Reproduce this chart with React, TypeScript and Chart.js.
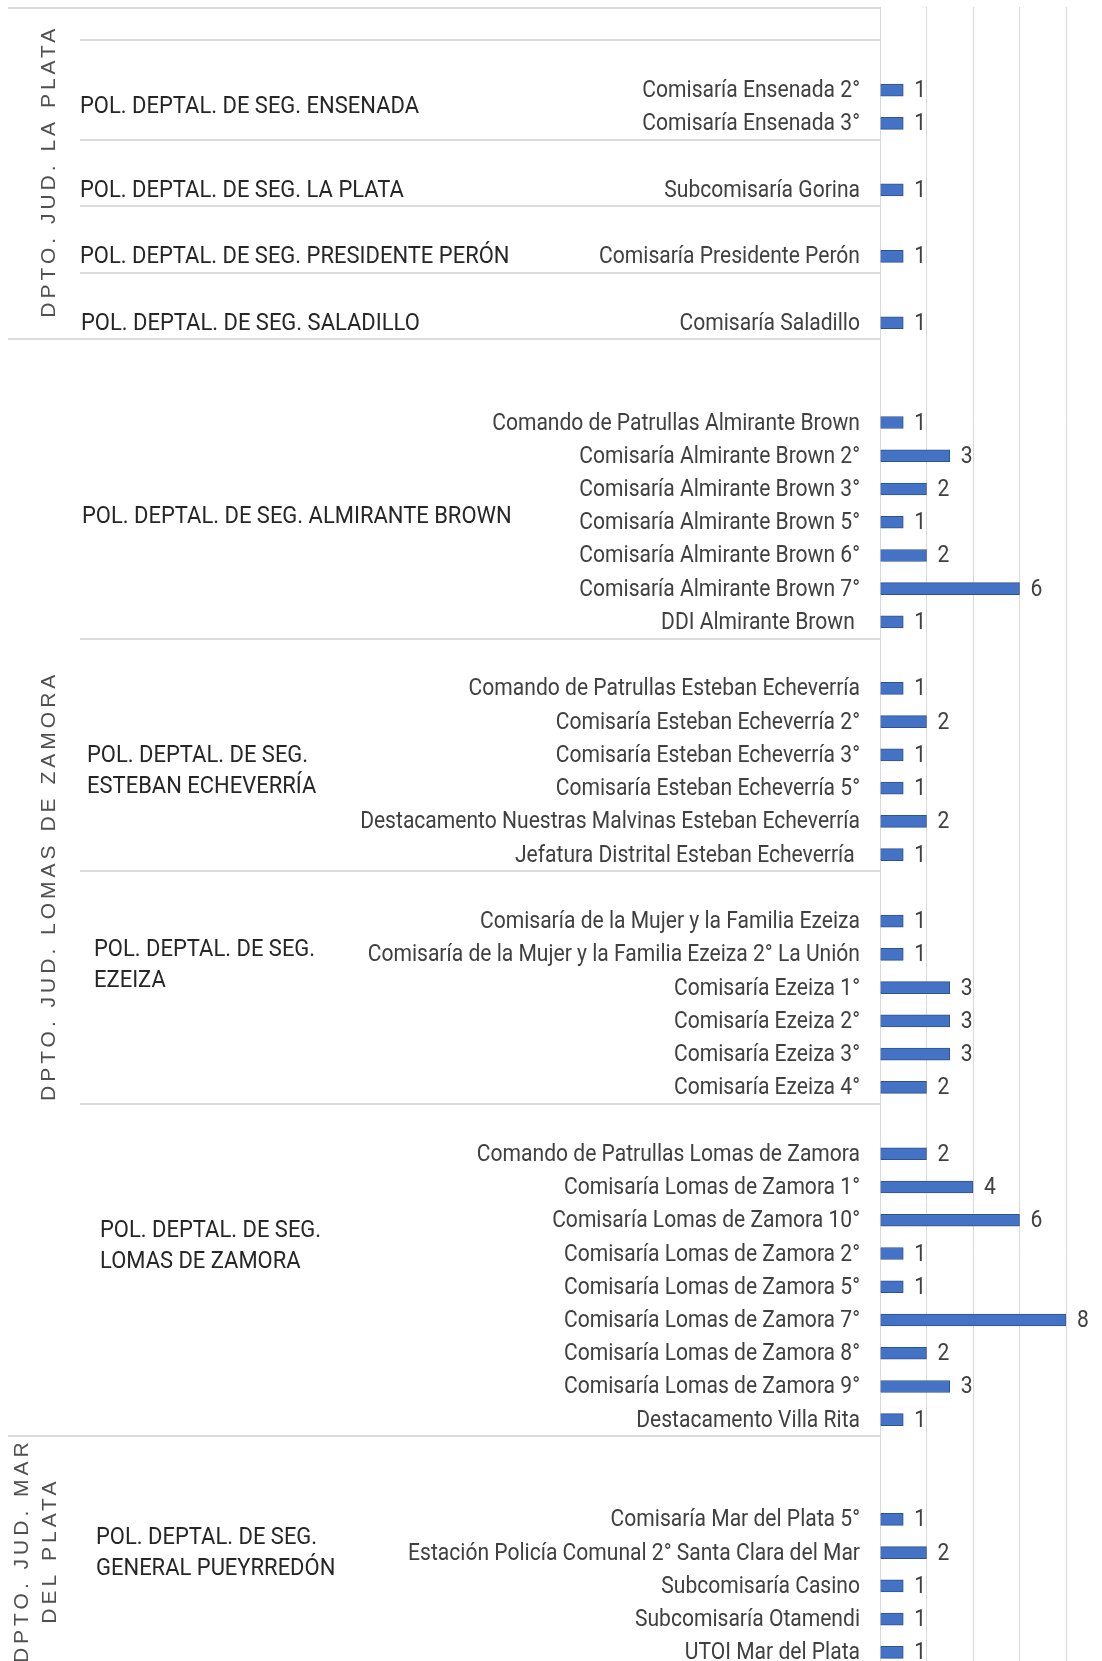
import React, { useEffect, useRef } from 'react';
import { Chart, registerables } from 'chart.js';

Chart.register(...registerables);

const FONT = 'Roboto, "Noto Sans", sans-serif';
const DEPTO_FONT = '"Liberation Sans", Arial, sans-serif';

// ---- Data ----
const DEPTOS = ['DPTO. JUD. LA PLATA', 'DPTO. JUD. LOMAS DE ZAMORA', 'DPTO. JUD. MAR|DEL PLATA'];

const ENSENADA_STATIONS = ['Comisaría Ensenada 2°', 'Comisaría Ensenada 3°'];
const ENSENADA_COUNTS = [1, 1];

const LA_PLATA_STATIONS = ['Subcomisaría Gorina'];
const LA_PLATA_COUNTS = [1];

const PERON_STATIONS = ['Comisaría Presidente Perón'];
const PERON_COUNTS = [1];

const SALADILLO_STATIONS = ['Comisaría Saladillo'];
const SALADILLO_COUNTS = [1];

const ALMIRANTE_BROWN_STATIONS = [
  'Comando de Patrullas Almirante Brown',
  'Comisaría Almirante Brown 2°',
  'Comisaría Almirante Brown 3°',
  'Comisaría Almirante Brown 5°',
  'Comisaría Almirante Brown 6°',
  'Comisaría Almirante Brown 7°',
  'DDI Almirante Brown ',
];
const ALMIRANTE_BROWN_COUNTS = [1, 3, 2, 1, 2, 6, 1];

const ECHEVERRIA_STATIONS = [
  'Comando de Patrullas Esteban Echeverría',
  'Comisaría Esteban Echeverría 2°',
  'Comisaría Esteban Echeverría 3°',
  'Comisaría Esteban Echeverría 5°',
  'Destacamento Nuestras Malvinas Esteban Echeverría',
  'Jefatura Distrital Esteban Echeverría ',
];
const ECHEVERRIA_COUNTS = [1, 2, 1, 1, 2, 1];

const EZEIZA_STATIONS = [
  'Comisaría de la Mujer y la Familia Ezeiza',
  'Comisaría de la Mujer y la Familia Ezeiza 2° La Unión',
  'Comisaría Ezeiza 1°',
  'Comisaría Ezeiza 2°',
  'Comisaría Ezeiza 3°',
  'Comisaría Ezeiza 4°',
];
const EZEIZA_COUNTS = [1, 1, 3, 3, 3, 2];

const LOMAS_STATIONS = [
  'Comando de Patrullas Lomas de Zamora',
  'Comisaría Lomas de Zamora 1°',
  'Comisaría Lomas de Zamora 10°',
  'Comisaría Lomas de Zamora 2°',
  'Comisaría Lomas de Zamora 5°',
  'Comisaría Lomas de Zamora 7°',
  'Comisaría Lomas de Zamora 8°',
  'Comisaría Lomas de Zamora 9°',
  'Destacamento Villa Rita',
];
const LOMAS_COUNTS = [2, 4, 6, 1, 1, 8, 2, 3, 1];

const PUEYRREDON_STATIONS = [
  'Comisaría Mar del Plata 5°',
  'Estación Policía Comunal 2° Santa Clara del Mar',
  'Subcomisaría Casino',
  'Subcomisaría Otamendi',
  'UTOI Mar del Plata',
];
const PUEYRREDON_COUNTS = [1, 2, 1, 1, 1];

const X_MAX = 8;
const X_STEP = 2;

const GROUPS = [
  { depto: 0, name: ['POL. DEPTAL. DE SEG. ENSENADA'], stations: ENSENADA_STATIONS, counts: ENSENADA_COUNTS },
  { depto: 0, name: ['POL. DEPTAL. DE SEG. LA PLATA'], stations: LA_PLATA_STATIONS, counts: LA_PLATA_COUNTS },
  { depto: 0, name: ['POL. DEPTAL. DE SEG. PRESIDENTE PERÓN'], stations: PERON_STATIONS, counts: PERON_COUNTS },
  { depto: 0, name: ['POL. DEPTAL. DE SEG. SALADILLO'], stations: SALADILLO_STATIONS, counts: SALADILLO_COUNTS },
  { depto: 1, name: ['POL. DEPTAL. DE SEG. ALMIRANTE BROWN'], stations: ALMIRANTE_BROWN_STATIONS, counts: ALMIRANTE_BROWN_COUNTS },
  { depto: 1, name: ['POL. DEPTAL. DE SEG.', 'ESTEBAN ECHEVERRÍA'], stations: ECHEVERRIA_STATIONS, counts: ECHEVERRIA_COUNTS },
  { depto: 1, name: ['POL. DEPTAL. DE SEG.', 'EZEIZA'], stations: EZEIZA_STATIONS, counts: EZEIZA_COUNTS },
  { depto: 1, name: ['POL. DEPTAL. DE SEG.', 'LOMAS DE ZAMORA'], stations: LOMAS_STATIONS, counts: LOMAS_COUNTS },
  { depto: 2, name: ['POL. DEPTAL. DE SEG.', 'GENERAL PUEYRREDÓN'], stations: PUEYRREDON_STATIONS, counts: PUEYRREDON_COUNTS },
];

// ---- Layout (blank slots before each group, label placement) ----
const GROUP_LAYOUT = [
  { gap: 2, labelRow: 0.48, indent: 80 },
  { gap: 1, labelRow: 0, indent: 80 },
  { gap: 1, labelRow: 0, indent: 80 },
  { gap: 1, labelRow: 0, indent: 81 },
  { gap: 2, labelRow: 2.82, indent: 82 },
  { gap: 1, labelRow: 2.48, indent: 87 },
  { gap: 1, labelRow: 1.3, indent: 94 },
  { gap: 1, labelRow: 2.77, indent: 100 },
  { gap: 2, labelRow: 1.0, indent: 96 },
];

// Build category table
const LABELS: string[] = [];
const VALUES: (number | null)[] = [];
const GROUP_INFO: { gapStart: number; first: number; last: number }[] = [];
GROUPS.forEach((g, i) => {
  const gapStart = LABELS.length;
  for (let j = 0; j < GROUP_LAYOUT[i].gap; j++) {
    LABELS.push('');
    VALUES.push(null);
  }
  const first = LABELS.length;
  g.stations.forEach((s, j) => {
    LABELS.push(s);
    VALUES.push(g.counts[j]);
  });
  GROUP_INFO.push({ gapStart, first, last: LABELS.length - 1 });
});

const AXIS_LEFT = 880;
const LABEL_RIGHT = 860;
const CANVAS_W = 1102;
const CANVAS_H = 1669;
const FONT_SIZE = 24;

const overlayPlugin = {
  id: 'overlay',
  afterDatasetsDraw(chart: any) {
    const { ctx, chartArea, scales } = chart;
    const y = scales.y;
    const slot = Math.abs(y.getPixelForValue(1) - y.getPixelForValue(0));
    const top = (i: number) => y.getPixelForValue(i) - slot / 2;

    ctx.save();
    ctx.font = `${FONT_SIZE}px ${FONT}`;
    // horizontal compression to mimic condensed typeface
    const sxStation = 296 / ctx.measureText('Comisaría Lomas de Zamora 7°').width;
    const sxGroup = 339 / ctx.measureText('POL. DEPTAL. DE SEG. ENSENADA').width;

    const drawText = (t: string, x: number, yy: number, sx: number, align: string) => {
      ctx.save();
      ctx.translate(x, yy);
      ctx.scale(sx, 1);
      ctx.textAlign = align;
      ctx.fillText(t, 0, 0);
      ctx.restore();
    };

    ctx.textBaseline = 'middle';
    // station labels
    ctx.fillStyle = '#404040';
    LABELS.forEach((lab, i) => {
      if (!lab) return;
      drawText(lab, LABEL_RIGHT, y.getPixelForValue(i) + 1, sxStation, 'right');
    });

    // value labels
    const meta = chart.getDatasetMeta(0);
    meta.data.forEach((bar: any, i: number) => {
      const v = VALUES[i];
      if (v == null) return;
      drawText(String(v), bar.x + 11, bar.y + 1, sxStation, 'left');
    });

    // separators
    ctx.strokeStyle = '#d0d0d0';
    ctx.lineWidth = 1.5;
    const hline = (yy: number, x0: number) => {
      ctx.beginPath();
      ctx.moveTo(x0, Math.round(yy));
      ctx.lineTo(chartArea.left, Math.round(yy));
      ctx.stroke();
    };
    GROUPS.forEach((g, i) => {
      const info = GROUP_INFO[i];
      const newDepto = i === 0 || GROUPS[i - 1].depto !== g.depto;
      hline(Math.max(top(info.gapStart), chartArea.top + 1), newDepto ? 8 : 80);
    });
    // inner line at the top of the first group
    hline(top(GROUP_INFO[0].gapStart + 1), 80);

    // group labels
    ctx.fillStyle = '#262626';
    GROUPS.forEach((g, i) => {
      const L = GROUP_LAYOUT[i];
      const cy = y.getPixelForValue(GROUP_INFO[i].first + L.labelRow);
      const lh = 31;
      const n = g.name.length;
      g.name.forEach((line, j) => {
        drawText(line, L.indent, cy + (j - (n - 1) / 2) * lh + 1, sxGroup, 'left');
      });
    });

    // depto labels (rotated)
    ctx.font = `21px ${DEPTO_FONT}`;
    ctx.fillStyle = '#505050';
    ctx.textAlign = 'center';
    ctx.textBaseline = 'middle';
    (ctx as any).letterSpacing = '4px';
    DEPTOS.forEach((d, di) => {
      const idx = GROUPS.map((g, i) => (g.depto === di ? i : -1)).filter((i) => i >= 0);
      const start = GROUP_INFO[idx[0]].gapStart;
      const lastIdx = idx[idx.length - 1];
      const end = lastIdx === GROUPS.length - 1 ? LABELS.length : GROUP_INFO[lastIdx + 1].gapStart;
      const cy = (top(start) + top(end)) / 2;
      const lines = d.split('|');
      ctx.save();
      if (lines.length === 1) {
        ctx.translate(49, cy);
        ctx.rotate(-Math.PI / 2);
        ctx.fillText(lines[0], 2, 0);
      } else {
        ctx.translate(22, cy);
        ctx.rotate(-Math.PI / 2);
        lines.forEach((ln, j) => ctx.fillText(ln, 2, j * 28));
      }
      ctx.restore();
    });
    ctx.restore();
  },
};

export default function App() {
  const ref = useRef<HTMLCanvasElement | null>(null);
  useEffect(() => {
    if (!ref.current) return;
    const chart = new Chart(ref.current, {
      type: 'bar',
      data: {
        labels: LABELS,
        datasets: [
          {
            data: VALUES as any,
            backgroundColor: '#4472c4',
            borderColor: '#2f528f',
            borderWidth: 1,
            barThickness: 12,
          },
        ],
      },
      options: {
        indexAxis: 'y',
        responsive: false,
        animation: false,
        layout: { padding: { top: 7, right: 36, bottom: 0, left: 0 } },
        plugins: { legend: { display: false }, tooltip: { enabled: false } },
        scales: {
          x: {
            min: 0,
            max: X_MAX,
            ticks: { display: false, stepSize: X_STEP },
            grid: { color: '#d9d9d9', lineWidth: 1, drawTicks: false, tickLength: 0 },
            border: { display: false },
            afterFit: (s: any) => {
              s.height = 0;
              s.paddingLeft = 0;
              s.paddingRight = 0;
            },
          },
          y: {
            type: 'category',
            grid: { display: false, drawTicks: false, tickLength: 0 },
            border: { display: false },
            ticks: { display: false, autoSkip: false },
            afterFit: (s: any) => {
              s.width = AXIS_LEFT;
              s.paddingTop = 0;
              s.paddingBottom = 0;
            },
          },
        },
      },
      plugins: [overlayPlugin],
    });
    return () => chart.destroy();
  }, []);

  return (
    <div
      style={{
        position: 'absolute',
        left: 0,
        top: 0,
        width: CANVAS_W,
        height: 1661,
        overflow: 'hidden',
        background: '#fff',
      }}
    >
      <canvas ref={ref} width={CANVAS_W} height={CANVAS_H} style={{ display: 'block' }} />
    </div>
  );
}
